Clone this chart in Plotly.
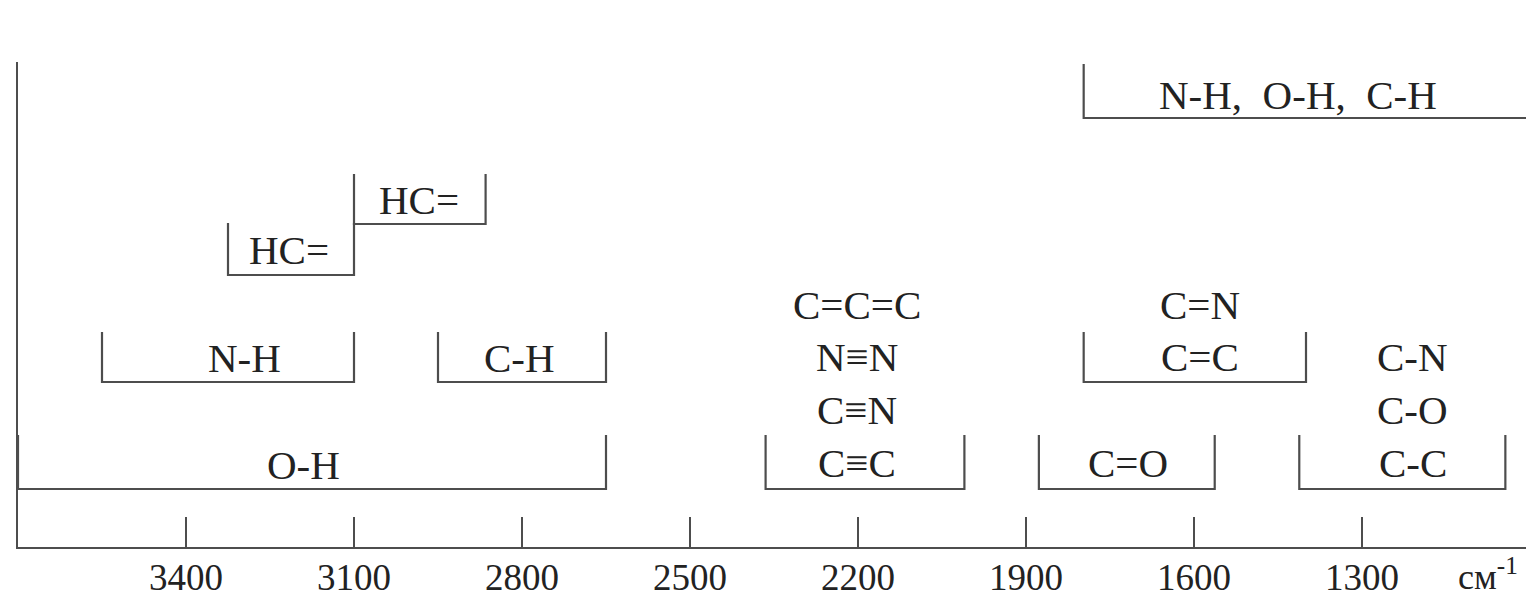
import plotly.graph_objects as go

# Wavenumber axis (cm^-1)
tick_values = [3400, 3100, 2800, 2500, 2200, 1900, 1600, 1300, 1000]
tick_labels = ["3400", "3100", "2800", "2500", "2200", "1900", "1600", "1300", ""]
axis_range = [3700, 1000]

# Absorption bands: start / end wavenumber and row level
band_names = ["O-H", "N-H", "C-H", "HC= (1)", "HC= (2)", "triple", "C=O",
              "single", "double", "X-H"]
band_hi = [3700, 3550, 2950, 3325, 3100, 2365, 1877, 1412, 1797, 1797]
band_lo = [2650, 3100, 2650, 3100, 2865, 2010, 1563, 1044, 1400, 1000]
band_base = [58, 165, 165, 272, 323, 58, 58, 58, 165, 429]
band_height = [54, 50, 50, 52, 50, 54, 54, 54, 50, 54]

# Text labels
label_text = ["O-H", "N-H", "C-H", "HC=", "HC=", "N-H,  O-H,  C-H",
              "C=C=C", "N≡N", "C≡N", "C≡C",
              "C=N", "C=C", "C=O",
              "C-N", "C-O", "C-C"]
label_x = [3190, 3296, 2805, 3216, 2984, 1414,
           2202, 2202, 2202, 2202,
           1589, 1589, 1718,
           1209, 1209, 1209]
label_y = [82, 189, 189, 297, 347, 452,
           242, 190, 137, 84,
           242, 190, 84,
           190, 137, 84]

LINE = "#4d4d4d"
TEXT = "#222222"
FONT = "Liberation Serif"

fig = go.Figure()
for name, hi, lo, b, h in zip(band_names, band_hi, band_lo, band_base, band_height):
    fig.add_trace(go.Scatter(
        x=[hi, hi, lo, lo], y=[b + h, b, b, b + h],
        mode="lines", line=dict(color=LINE, width=2.2),
        name=name, showlegend=False, hoverinfo="skip"))

for t, x, y in zip(label_text, label_x, label_y):
    fig.add_annotation(x=x, y=y, text=t, showarrow=False,
                       xanchor="center", yanchor="middle",
                       font=dict(family=FONT, size=41, color=TEXT))

fig.add_annotation(x=1075, y=0, yshift=-27, text="см<sup>-1</sup>", showarrow=False,
                   xanchor="center", yanchor="middle",
                   font=dict(family=FONT, size=36, color=TEXT))

fig.update_xaxes(range=axis_range, tickvals=tick_values, ticktext=tick_labels,
                 ticks="inside", ticklen=30, tickwidth=2, tickcolor=LINE,
                 showline=True, linecolor=LINE, linewidth=2.2,
                 showgrid=False, zeroline=False, ticklabelstandoff=-4,
                 automargin=False,
                 tickfont=dict(family=FONT, size=37, color=TEXT))
fig.update_yaxes(range=[0, 485], showline=True, linecolor=LINE, linewidth=2.2,
                 showgrid=False, zeroline=False, showticklabels=False, ticks="",
                 automargin=False)

fig.update_layout(width=1534, height=592, plot_bgcolor="white", paper_bgcolor="white",
                  margin=dict(l=10, r=12, t=54, b=53, autoexpand=False), showlegend=False)

fig.write_html("out.html")
